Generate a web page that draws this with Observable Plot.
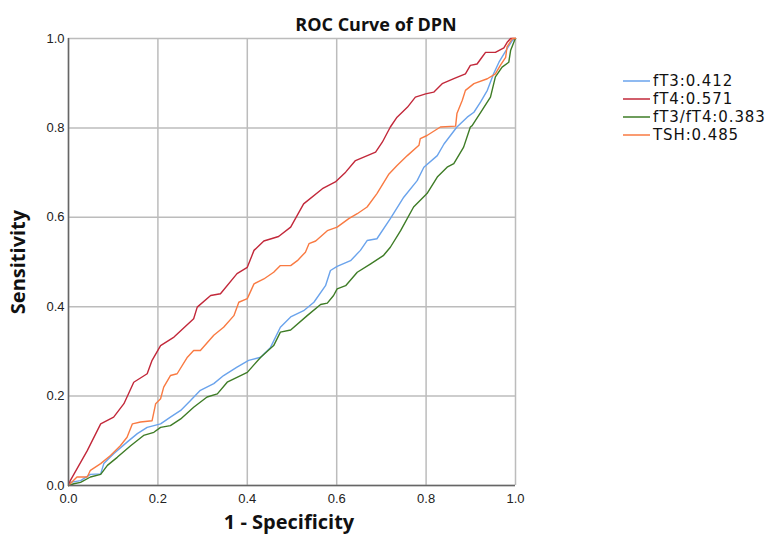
<!DOCTYPE html>
<html>
<head>
<meta charset="utf-8">
<script src="https://cdn.jsdelivr.net/npm/d3@7"></script>
<script src="https://cdn.jsdelivr.net/npm/@observablehq/plot@0.6"></script>
<style>
  html, body { margin: 0; padding: 0; background: #fff; }
  #chart svg { display: block; }
</style>
</head>
<body>
<div id="chart"></div>
<script>
const titleText = "ROC Curve of DPN";
const xLabel = "1 - Specificity";
const yLabel = "Sensitivity";
const ticks = [0, 0.2, 0.4, 0.6, 0.8, 1.0];

const seriesNames = ["fT3:0.412", "fT4:0.571", "fT3/fT4:0.383", "TSH:0.485"];
const seriesColors = ["#6aa3ec", "#c2283a", "#3e7c26", "#f97a42"];

// fT3
const fT3_fpr = [0,.004,.027,.049,.072,.079,.101,.131,.154,.176,.206,.228,.251,.273,.295,.325,.347,.377,.403,.430,.452,.474,.497,.526,.549,.575,.586,.601,.631,.653,.668,.690,.720,.750,.780,.795,.825,.840,.869,.892,.907,.922,.937,.951,.963,.981,.993,1];
const fT3_tpr = [0,.007,.011,.025,.026,.049,.071,.097,.116,.130,.138,.153,.168,.190,.213,.228,.246,.265,.280,.287,.309,.354,.377,.391,.410,.447,.481,.490,.503,.526,.548,.552,.597,.645,.682,.712,.738,.764,.802,.824,.835,.858,.884,.921,.947,.977,.996,1];

// fT4
const fT4_fpr = [0,.004,.042,.072,.101,.124,.146,.176,.187,.206,.236,.280,.288,.318,.340,.377,.400,.415,.437,.470,.497,.526,.568,.597,.620,.642,.687,.702,.720,.735,.758,.776,.799,.817,.836,.862,.888,.899,.914,.925,.933,.955,.974,.981,.989,1];
const fT4_tpr = [0,.011,.078,.138,.153,.183,.231,.250,.280,.313,.332,.373,.399,.425,.429,.474,.488,.526,.547,.557,.578,.630,.664,.679,.701,.727,.746,.768,.802,.824,.846,.869,.876,.880,.899,.910,.921,.940,.943,.958,.969,.969,.979,.991,1,1];

// fT3/fT4
const ratio_fpr = [0,.012,.027,.049,.072,.087,.109,.139,.168,.191,.206,.228,.251,.280,.310,.333,.355,.400,.430,.459,.474,.497,.534,.564,.579,.593,.601,.620,.646,.676,.705,.720,.743,.772,.802,.825,.847,.862,.884,.899,.903,.925,.944,.955,.970,.985,.989,.998,1];
const ratio_tpr = [0,.004,.007,.019,.025,.045,.063,.089,.112,.119,.130,.134,.149,.175,.198,.205,.231,.253,.287,.313,.343,.348,.380,.405,.408,.425,.440,.447,.477,.496,.515,.533,.570,.623,.653,.690,.712,.720,.757,.802,.805,.839,.869,.914,.936,.947,.973,.996,1];

// TSH
const tsh_fpr = [0,.019,.042,.049,.072,.094,.116,.131,.143,.161,.187,.195,.206,.213,.228,.243,.266,.280,.295,.325,.347,.370,.381,.400,.415,.437,.459,.474,.497,.512,.530,.538,.553,.579,.601,.627,.646,.668,.690,.717,.735,.758,.784,.787,.802,.832,.866,.869,.881,.888,.907,.937,.955,.966,.978,.981,.993,1];
const tsh_tpr = [0,.019,.019,.034,.049,.067,.089,.108,.138,.142,.145,.183,.194,.220,.246,.250,.287,.302,.302,.336,.354,.380,.410,.418,.451,.462,.477,.492,.492,.503,.522,.541,.547,.570,.578,.597,.608,.623,.653,.697,.716,.738,.761,.776,.783,.802,.804,.832,.862,.884,.899,.910,.921,.940,.958,.981,1,1];

const fprs = [fT3_fpr, fT4_fpr, ratio_fpr, tsh_fpr];
const tprs = [fT3_tpr, fT4_tpr, ratio_tpr, tsh_tpr];

const rows = [];
seriesNames.forEach((name, i) => {
  fprs[i].forEach((x, j) => rows.push({series: name, x, y: tprs[i][j]}));
});

const W = 769, H = 539;
const chart = Plot.plot({
  width: W,
  height: H,
  marginLeft: 68,
  marginRight: 254,
  marginTop: 38,
  marginBottom: 54,
  style: {fontFamily: "'Liberation Sans', sans-serif", fontSize: "13px", color: "#222", background: "#fff"},
  x: {domain: [0, 1]},
  y: {domain: [0, 1]},
  color: {domain: seriesNames, range: seriesColors},
  marks: [
    Plot.gridX(ticks, {stroke: "#bcbcbc", strokeOpacity: 1, strokeWidth: 1.5}),
    Plot.gridY(ticks, {stroke: "#bcbcbc", strokeOpacity: 1, strokeWidth: 1.5}),
    Plot.axisX({ticks, tickFormat: d3.format(".1f"), tickSize: 0, tickPadding: 8, label: null}),
    Plot.axisY({ticks, tickFormat: d3.format(".1f"), tickSize: 0, tickPadding: 4, label: null}),
    Plot.line(rows, {x: "x", y: "y", z: "series", stroke: "series", strokeWidth: 1.4}),
    Plot.ruleX([0], {stroke: "#666", strokeWidth: 1.5}),
    Plot.ruleY([0], {stroke: "#666", strokeWidth: 1.5}),
    Plot.text([titleText], {frameAnchor: "top", dy: -20, dx: 84, fontSize: 18, fontWeight: "bold", fontFamily: "'Open Sans', sans-serif", fill: "#111"}),
    Plot.text([xLabel], {frameAnchor: "bottom", dy: 43, dx: -3, fontSize: 20, fontWeight: "bold", fontFamily: "'Open Sans', sans-serif", fill: "#111"}),
    Plot.text([yLabel], {frameAnchor: "left", textAnchor: "middle", dx: -50, rotate: -90, fontSize: 20, fontWeight: "bold", fontFamily: "'Open Sans', sans-serif", fill: "#111"})
  ]
});

// legend (drawn with d3 into the same svg)
const svg = d3.select(chart);
const lg = svg.append("g").attr("transform", "translate(623,81)").attr("text-anchor", "start");
seriesNames.forEach((name, i) => {
  const g = lg.append("g").attr("transform", `translate(0,${i * 18})`);
  g.append("line").attr("x1", 0).attr("x2", 27).attr("y1", 0).attr("y2", 0)
    .attr("stroke", seriesColors[i]).attr("stroke-width", 1.5);
  g.append("text").attr("x", 30).attr("y", 0).attr("dy", "0.35em")
    .attr("text-anchor", "start")
    .attr("font-family", "'DejaVu Sans', sans-serif").attr("font-size", 15)
    .attr("letter-spacing", "0.9px")
    .attr("fill", "#111").text(name);
});

document.getElementById("chart").appendChild(chart);
</script>
</body>
</html>
